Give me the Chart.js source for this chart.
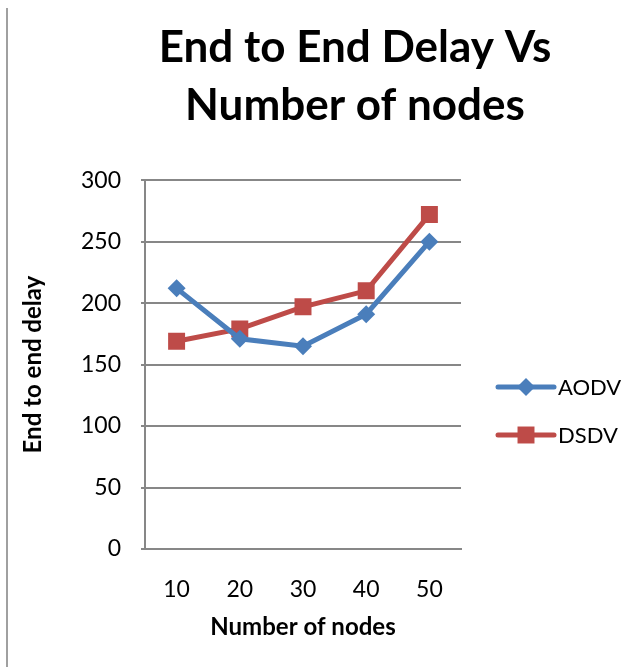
<!DOCTYPE html>
<html>
<head>
<meta charset="utf-8">
<script src="https://cdn.jsdelivr.net/npm/chart.js@4"></script>
<style>
  body { margin: 0; background: #fff; }
  .quadro { position: relative; width: 640px; height: 667px; }
  .borda { position: absolute; left: 6px; top: 8px; width: 2px; height: 659px; background: #a0a0a0; }
  canvas { position: absolute; left: 0; top: 0; }
</style>
</head>
<body>
<div class="quadro">
  <div class="borda"></div>
  <canvas class="grafico-atraso" width="640" height="667"></canvas>
</div>
<script>
const nos = ['10', '20', '30', '40', '50'];
const atrasoAodv = [212, 171, 165, 191, 250];
const atrasoDsdv = [169, 179, 197, 210, 272];
const tituloGrafico = ['End to End Delay Vs', 'Number of nodes'];

const fonte = 'Lato, "Open Sans", sans-serif';
const corGrade = '#878787';

// legenda do lado direito, linha com marcador igual ao excel
const legendaLateral = {
	id: 'legendaLateral',
	afterDraw(chart) {
		const ctx = chart.ctx;
		const area = chart.chartArea;
		chart.data.datasets.forEach((ds, i) => {
			const y = area.bottom - 162 + i * 48;
			const x0 = area.right + 37;
			ctx.save();
			ctx.strokeStyle = ds.borderColor;
			ctx.lineWidth = 5;
			ctx.lineCap = 'round';
			ctx.beginPath();
			ctx.moveTo(x0, y);
			ctx.lineTo(x0 + 56, y);
			ctx.stroke();
			ctx.fillStyle = ds.backgroundColor;
			Chart.helpers.drawPoint(ctx, {
				pointStyle: ds.pointStyle,
				radius: ds.pointRadius,
				borderWidth: 0
			}, x0 + 28, y);
			ctx.fillStyle = '#000';
			ctx.font = '22px ' + fonte;
			ctx.textAlign = 'left';
			ctx.textBaseline = 'middle';
			ctx.fillText(ds.label, x0 + 60, y + 1);
			ctx.restore();
		});
	}
};

// centraliza o titulo como no original
const ajusteTitulo = {
	id: 'ajusteTitulo',
	afterLayout(chart) {
		chart.titleBlock.left = 70;
		chart.titleBlock.right = 640;
	}
};

const ctx = document.querySelector('.grafico-atraso').getContext('2d');
const graficoAtraso = new Chart(ctx, {
	type: 'line',
	data: {
		labels: nos,
		datasets: [
			{
				label: 'AODV',
				data: atrasoAodv,
				borderColor: '#4a7ebb',
				backgroundColor: '#4a7ebb',
				borderWidth: 5,
				pointStyle: 'rectRot',
				pointRadius: 9,
				pointBorderWidth: 0,
				tension: 0
			},
			{
				label: 'DSDV',
				data: atrasoDsdv,
				borderColor: '#be4b48',
				backgroundColor: '#be4b48',
				borderWidth: 5,
				pointStyle: 'rect',
				pointRadius: 12,
				pointBorderWidth: 0,
				tension: 0
			}
		]
	},
	options: {
		responsive: false,
		animation: false,
		layout: { padding: 0 },
		scales: {
			x: {
				offset: true,
				grid: { display: false },
				border: { color: corGrade, width: 2 },
				ticks: { color: '#000', padding: 19, font: { family: fonte, size: 23 } },
				title: {
					display: true,
					text: 'Number of nodes',
					color: '#000',
					padding: { top: 4, bottom: 25 },
					font: { family: fonte, size: 24, weight: 'bold' }
				},
				afterFit: (s) => { s.height = 118; }
			},
			y: {
				min: 0,
				max: 300,
				grid: { color: corGrade, lineWidth: 2, tickLength: 4 },
				border: { color: corGrade, width: 2 },
				ticks: { stepSize: 50, color: '#000', padding: 20, font: { family: fonte, size: 23 } },
				title: {
					display: true,
					text: 'End to end delay',
					color: '#000',
					padding: { top: 19, bottom: 0 },
					font: { family: fonte, size: 24, weight: 'bold' }
				},
				afterFit: (s) => { s.width = 145; }
			},
			direita: {
				position: 'right',
				display: true,
				grid: { display: false },
				border: { display: false },
				ticks: { display: false },
				afterFit: (s) => { s.width = 179; }
			}
		},
		plugins: {
			legend: { display: false },
			tooltip: { enabled: false },
			title: {
				display: true,
				text: tituloGrafico,
				color: '#000',
				padding: { top: 19, bottom: 45 },
				font: { family: fonte, size: 44, weight: 'bold', lineHeight: 1.32 }
			}
		}
	},
	plugins: [legendaLateral, ajusteTitulo]
});
</script>
</body>
</html>
